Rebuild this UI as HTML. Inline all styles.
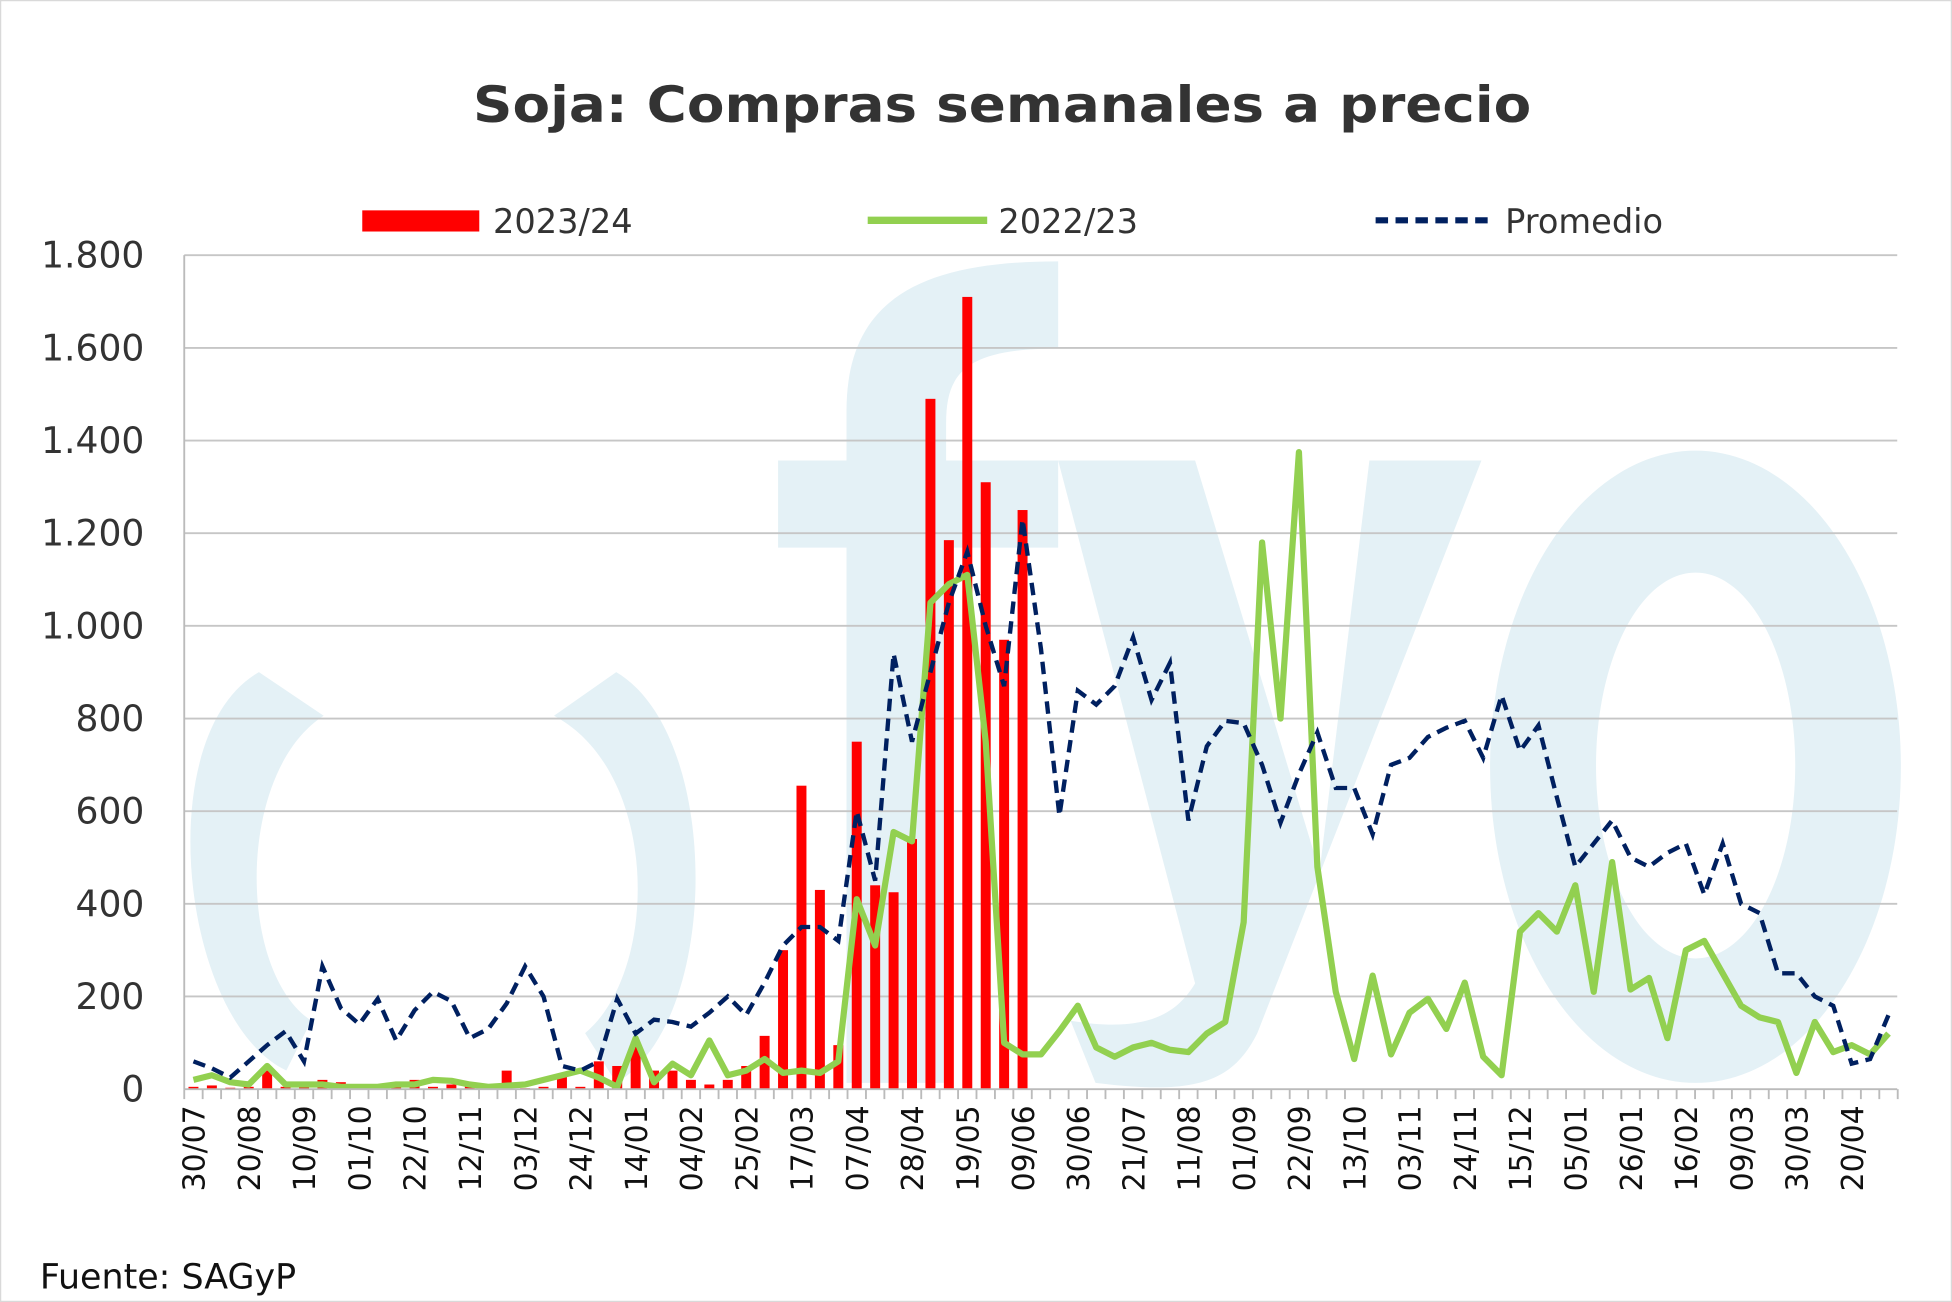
<!DOCTYPE html>
<html><head><meta charset="utf-8"><style>html,body{margin:0;padding:0;background:#fff}svg{display:block}</style></head>
<body>
<svg width="1952" height="1302" viewBox="0 0 1568 1046" preserveAspectRatio="none" xmlns="http://www.w3.org/2000/svg" font-family="'DejaVu Sans', 'Liberation Sans', sans-serif">
<rect x="0.5" y="0.5" width="1567" height="1045" fill="#fff" stroke="#d9d9d9"/>
<g fill="#e4f1f6">
<path d="M208 540 C120 590 145 820 230 860 L250 820 C190 780 190 620 260 575 Z"/>
<path d="M495 540 C580 590 580 820 495 870 L470 830 C530 780 530 620 445 575 Z"/>
<path d="M680 870 L680 440 L625 440 L625 370 L680 370 L680 330 C680 240 740 210 850 210 L850 280 C775 280 760 300 760 340 L760 370 L850 370 L850 440 L760 440 L760 870 Z"/>
<path d="M850 370 L960 370 L1060 700 L1100 370 L1190 370 L1010 830 C990 870 960 880 880 870 L860 820 C920 830 945 815 960 790 Z"/>
<path fill-rule="evenodd" d="M1362 362 A165 254 0 1 1 1361.9 362 Z M1362 460 A80 155 0 1 0 1362.1 460 Z"/>
</g>
<text x="805" y="98" text-anchor="middle" font-size="40" font-weight="bold" fill="#333" textLength="850" lengthAdjust="spacingAndGlyphs">Soja: Compras semanales a precio</text>
<rect x="291" y="169" width="94" height="17" fill="#ff0000"/>
<text x="396" y="187" font-size="27" fill="#333">2023/24</text>
<line x1="697" y1="177" x2="793" y2="177" stroke="#92d050" stroke-width="6"/>
<text x="802" y="187" font-size="27" fill="#333">2022/23</text>
<line x1="1105" y1="177" x2="1200" y2="177" stroke="#002060" stroke-width="5" stroke-dasharray="10,6"/>
<text x="1209" y="187" font-size="27" fill="#333">Promedio</text>
<g id="grid" stroke="#c6c6c6" stroke-width="1.5"></g>
<g id="ylab" font-size="29" fill="#333" text-anchor="end"></g>
<g id="bars" fill="#ff0000"></g>
<polyline id="green" fill="none" stroke="#92d050" stroke-width="5" stroke-linejoin="round"/>
<polyline id="blue" fill="none" stroke="#002060" stroke-width="3.5" stroke-dasharray="10,6"/>
<line x1="148" y1="205" x2="148" y2="875" stroke="#bbb" stroke-width="1.5"/>
<line x1="148" y1="875" x2="1524" y2="875" stroke="#bbb" stroke-width="1.5"/>
<g id="ticks" stroke="#bbb" stroke-width="1.5"></g>
<g id="xlab" font-size="24" fill="#111"></g>
<text x="32" y="1035" font-size="28" fill="#111">Fuente: SAGyP</text>
<script>
var NS="http://www.w3.org/2000/svg";
function el(t,a,p,txt){var e=document.createElementNS(NS,t);for(var k in a)e.setAttribute(k,a[k]);if(txt!=null)e.textContent=txt;document.getElementById(p).appendChild(e);return e;}
function Y(v){return 875-v*0.3722;}
function X(i){return 155.4+14.8*i;}
var yl=["0","200","400","600","800","1.000","1.200","1.400","1.600","1.800"];
for(var k=0;k<10;k++){var y=Y(k*200);if(k>0)el("line",{x1:148,x2:1524,y1:y,y2:y},"grid");el("text",{x:116,y:y+10},"ylab",yl[k]);}
for(var i=0;i<=93;i++){var x=148+14.8*i;el("line",{x1:x,x2:x,y1:875,y2:883},"ticks");}
var lab="30/07 20/08 10/09 01/10 22/10 12/11 03/12 24/12 14/01 04/02 25/02 17/03 07/04 28/04 19/05 09/06 30/06 21/07 11/08 01/09 22/09 13/10 03/11 24/11 15/12 05/01 26/01 16/02 09/03 30/03 20/04".split(" ");
lab.forEach(function(l,j){var x=X(j*3)+9;el("text",{x:x,y:888,transform:"rotate(-90 "+x+" 888)","text-anchor":"end"},"xlab",l);});
var red=[5,8,3,5,40,5,5,20,15,5,5,5,20,5,10,10,5,40,2,5,30,5,60,50,100,40,40,20,10,20,50,115,300,655,430,95,750,440,425,540,1490,1185,1710,1310,970,1250];
red.forEach(function(v,i){el("rect",{x:X(i)-4,y:Y(v),width:8,height:875-Y(v)},"bars");});
var g=[20,30,15,10,50,10,10,10,5,5,5,10,10,20,18,10,5,null,10,20,30,40,25,5,110,15,55,30,105,30,40,65,35,40,35,60,410,310,555,535,1050,1090,1110,750,100,75,75,125,180,90,70,90,100,85,80,120,145,360,1180,800,1375,480,210,65,245,75,165,195,130,230,70,30,340,380,340,440,210,490,215,240,110,300,320,250,180,155,145,35,145,80,95,75,120];
var p1=[],p2=[];
g.forEach(function(v,i){if(v!=null)p1.push(X(i)+","+Y(v));});
document.getElementById("green").setAttribute("points",p1.join(" "));
var b=[60,45,25,60,95,125,60,265,175,140,195,105,170,210,190,110,130,185,265,200,50,40,60,195,120,150,145,135,165,200,160,230,310,350,350,320,600,450,940,750,900,1050,1160,1000,870,1230,950,590,860,830,870,975,840,920,580,740,795,790,700,575,680,770,650,650,550,700,715,760,780,795,715,850,730,785,630,480,530,580,500,480,510,530,420,530,400,380,250,250,200,180,55,65,160,250];
b.forEach(function(v,i){if(i<93)p2.push(X(i)+","+Y(v));});
document.getElementById("blue").setAttribute("points",p2.join(" "));
</script>
</svg>
</body></html>
